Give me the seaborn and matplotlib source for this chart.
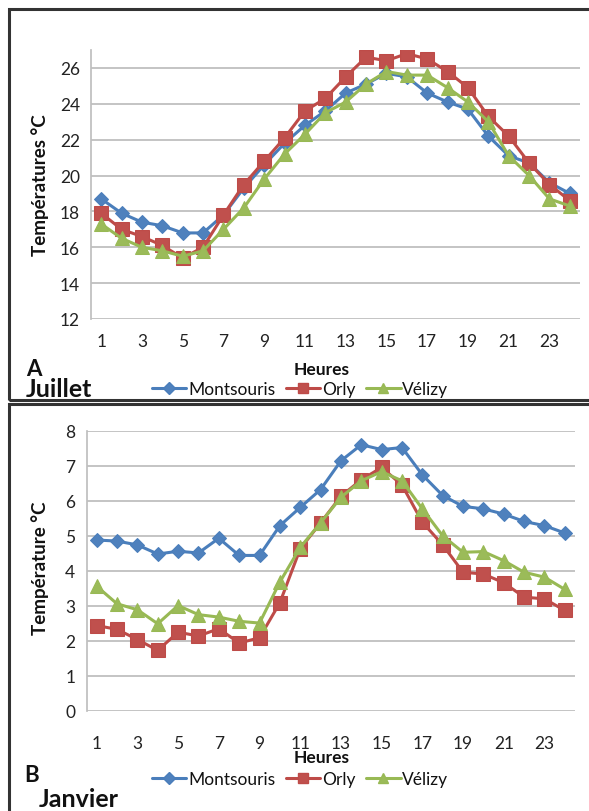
import numpy as np
import pandas as pd
import seaborn as sns
import matplotlib
matplotlib.use("Agg")
import matplotlib.pyplot as plt
from matplotlib.lines import Line2D
from matplotlib.patches import Rectangle

hours = list(range(1, 25))
series_names = ["Montsouris", "Orly", "Vélizy"]

juillet_montsouris = [18.7, 17.9, 17.4, 17.2, 16.8, 16.8, 17.8, 19.3, 20.6, 21.8, 22.8, 23.6,
                      24.6, 25.1, 25.7, 25.5, 24.6, 24.1, 23.7, 22.2, 21.1, 20.7, 19.6, 19.0]
juillet_orly = [17.9, 17.0, 16.6, 16.1, 15.4, 16.0, 17.8, 19.5, 20.8, 22.1, 23.6, 24.3,
                25.5, 26.6, 26.4, 26.8, 26.5, 25.8, 24.9, 23.3, 22.2, 20.7, 19.5, 18.6]
juillet_velizy = [17.3, 16.5, 16.0, 15.8, 15.5, 15.8, 17.0, 18.2, 19.8, 21.2, 22.3, 23.5,
                  24.1, 25.1, 25.8, 25.6, 25.6, 24.9, 24.1, 23.0, 21.1, 20.0, 18.7, 18.3]

janvier_montsouris = [4.88, 4.85, 4.74, 4.48, 4.56, 4.51, 4.93, 4.44, 4.44, 5.29, 5.81, 6.32,
                      7.14, 7.6, 7.46, 7.52, 6.74, 6.15, 5.84, 5.77, 5.62, 5.41, 5.29, 5.08]
janvier_orly = [2.44, 2.33, 2.04, 1.73, 2.25, 2.14, 2.35, 1.94, 2.09, 3.09, 4.63, 5.37,
                6.13, 6.6, 6.95, 6.45, 5.39, 4.74, 3.96, 3.91, 3.66, 3.25, 3.2, 2.87]
janvier_velizy = [3.56, 3.06, 2.89, 2.49, 3.01, 2.75, 2.68, 2.56, 2.51, 3.68, 4.67, 5.37,
                  6.1, 6.57, 6.83, 6.57, 5.77, 5.0, 4.53, 4.55, 4.29, 3.96, 3.82, 3.47]

xtick_labels = [str(h) for h in range(1, 24, 2)]

sns.set_theme(style="white")
plt.rcParams['font.family'] = ['Lato', 'DejaVu Sans']

colors = {"Montsouris": "#4A7EBB", "Orly": "#BE4B48", "Vélizy": "#98B954"}
mfc = {"Montsouris": "#4F81BD", "Orly": "#C0504D", "Vélizy": "#9BBB59"}
markers = {"Montsouris": "D", "Orly": "s", "Vélizy": "^"}
msize = {"Montsouris": 7.5, "Orly": 9.5, "Vélizy": 9.5}

W, H = 589, 812
fig = plt.figure(figsize=(W / 100, H / 100), dpi=100)

def fx(px):
    return px / W

def fy(py):
    return 1 - py / H

def make_df(vals):
    rows = []
    for name, v in zip(series_names, vals):
        for h, t in zip(hours, v):
            rows.append({"Heure": h, "Temp": t, "Station": name})
    return pd.DataFrame(rows)

def draw(ax, df, ylim, yticks, xpad):
    for name in series_names:
        sub = df[df["Station"] == name]
        sns.lineplot(data=sub, x="Heure", y="Temp", ax=ax, color=colors[name],
                     marker=markers[name], markersize=msize[name],
                     markerfacecolor=mfc[name], markeredgecolor=colors[name],
                     linewidth=2.2, legend=False)
    ax.set_xlim(0.5, 24.5)
    ax.set_ylim(*ylim)
    ax.set_yticks(yticks)
    ax.set_xticks(range(1, 24, 2))
    ax.set_xticklabels(xtick_labels)
    ax.grid(axis="y", color="#BFBFBF", linewidth=1.3)
    ax.grid(axis="x", visible=False)
    for s in ["top", "right"]:
        ax.spines[s].set_visible(False)
    ax.spines["left"].set_color("#BFBFBF")
    ax.spines["bottom"].set_visible(False)
    ax.tick_params(axis="y", length=5, color="#BFBFBF", labelsize=12.5, colors="#222222", pad=3)
    ax.tick_params(axis="x", length=0, labelsize=12.5, colors="#222222", pad=xpad)
    for lab in ax.get_yticklabels():
        lab.set_color("#222222")
    ax.set_xlabel("")
    ax.set_ylabel("")

# Top panel (July)
ax1 = fig.add_axes([fx(91), fy(320), fx(580) - fx(91), fy(51) - fy(320)])
draw(ax1, make_df([juillet_montsouris, juillet_orly, juillet_velizy]), (12, 27), range(12, 27, 2), 10)

# Bottom panel (January)
ax2 = fig.add_axes([fx(86.5), fy(712), fx(575) - fx(86.5), fy(431.7) - fy(712)])
draw(ax2, make_df([janvier_montsouris, janvier_orly, janvier_velizy]), (0, 8), range(0, 9, 1), 17)

# Borders
fig.patches.append(Rectangle((fx(9), fy(401)), 1.2, fy(10) - fy(401), transform=fig.transFigure,
                             fill=False, edgecolor="#333333", linewidth=2.2))
fig.patches.append(Rectangle((fx(9), fy(830)), 1.2, fy(405) - fy(830), transform=fig.transFigure,
                             fill=False, edgecolor="#333333", linewidth=2.2))

# Labels
fig.text(fx(40), fy(185), "Températures °C", rotation=90, ha="center", va="center",
         fontsize=13.5, fontweight="bold", color="#111111")
fig.text(fx(40), fy(568), "Température °C", rotation=90, ha="center", va="center",
         fontsize=13.5, fontweight="bold", color="#111111")
fig.text(fx(322), fy(370), "Heures", ha="center", va="center", fontsize=12.5, fontweight="bold", color="#111111")
fig.text(fx(322), fy(758), "Heures", ha="center", va="center", fontsize=12.5, fontweight="bold", color="#111111")

fig.text(fx(26), fy(370), "A", ha="left", va="center", fontsize=16, fontweight="bold", color="#111111")
fig.text(fx(26), fy(390), "Juillet", ha="left", va="center", fontsize=18, fontweight="bold", color="#111111")
fig.text(fx(24), fy(776), "B", ha="left", va="center", fontsize=16, fontweight="bold", color="#111111")
fig.text(fx(39), fy(800), "Janvier", ha="left", va="center", fontsize=18, fontweight="bold", color="#111111")

handles = [Line2D([0], [0], color=colors[n], marker=markers[n], markersize=msize[n] * 0.75,
                  markerfacecolor=mfc[n], markeredgecolor=colors[n], linewidth=2.2) for n in series_names]
for ycen in (390, 780):
    fig.legend(handles, series_names, loc="center", bbox_to_anchor=(fx(300), fy(ycen)), ncol=3,
               frameon=False, fontsize=12.5, handlelength=2.0, handletextpad=0.1, columnspacing=0.6,
               borderaxespad=0, borderpad=0, labelcolor="#111111")

fig.savefig("out.png", dpi=100, facecolor="white")
